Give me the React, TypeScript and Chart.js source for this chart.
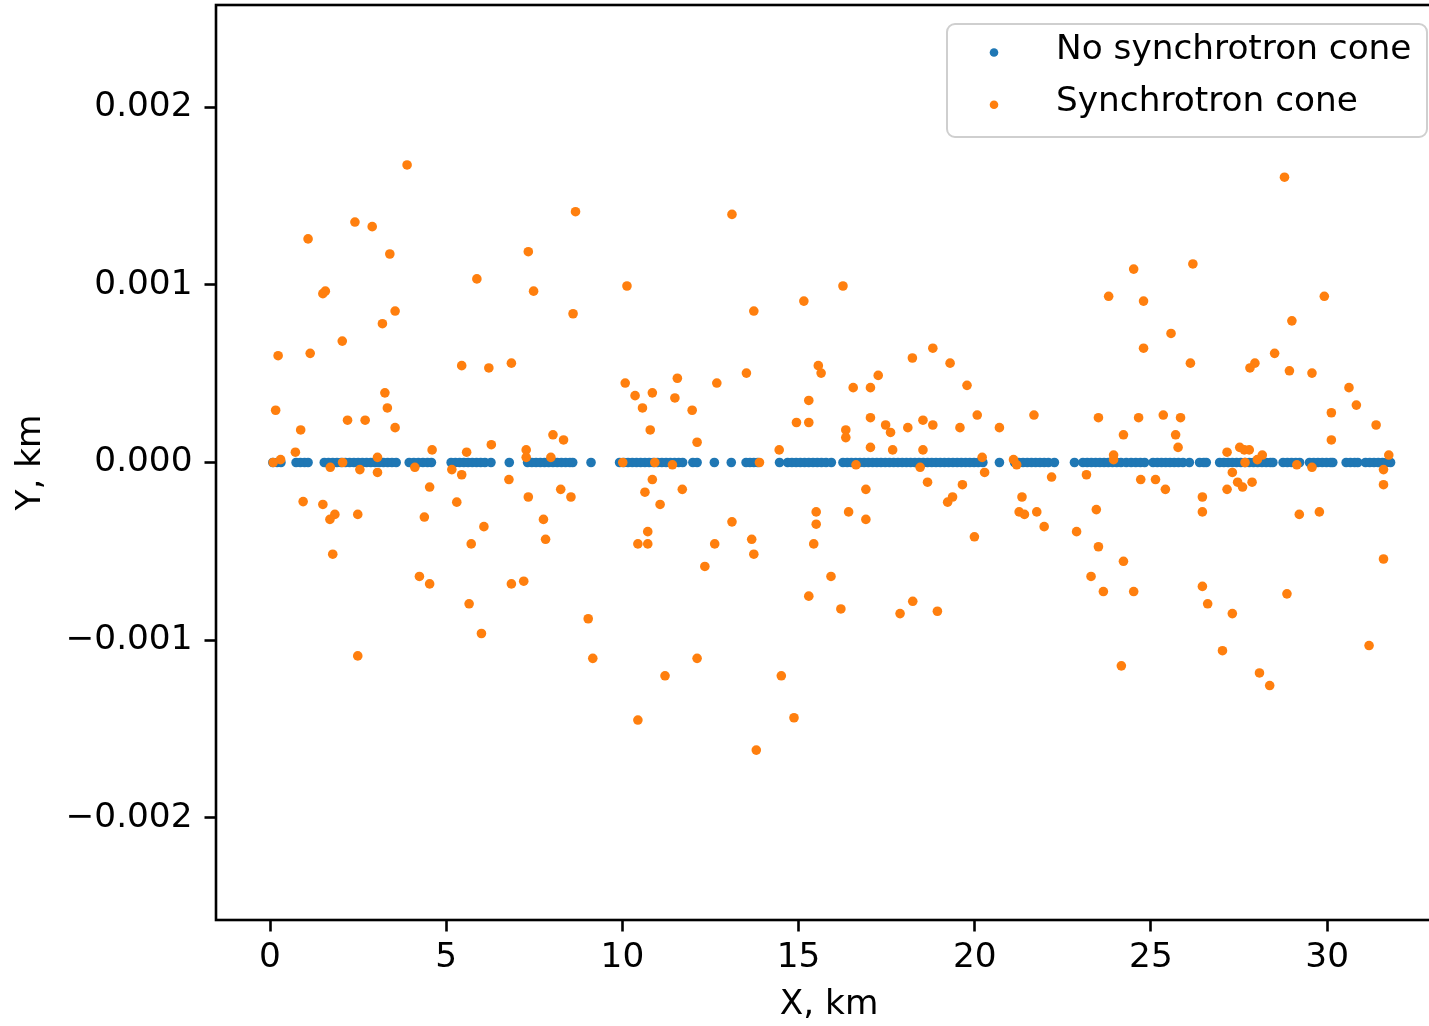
import React, { useEffect, useRef } from "react";
import { Chart, registerables } from "chart.js";

Chart.register(...registerables);

// ---------------- data ----------------
const seriesNames = ["No synchrotron cone", "Synchrotron cone"];
const seriesColors = ["#1f77b4", "#ff7f0e"];

// X positions (km) of particles without synchrotron cone (Y = 0)
const blueX = [
  0.08, 0.2, 0.31,
  0.74, 0.86, 0.98, 1.08,
  1.54, 1.66, 1.78, 1.9, 2.02, 2.14, 2.26, 2.38, 2.5, 2.62, 2.74, 2.86, 2.98, 3.1, 3.22, 3.34, 3.46, 3.58,
  3.95, 4.08, 4.21, 4.34, 4.47, 4.58,
  5.14, 5.26, 5.38, 5.5, 5.62, 5.74, 5.86, 5.98, 6.1, 6.27,
  6.79,
  7.31, 7.43, 7.55, 7.67, 7.79, 7.91, 8.03, 8.15, 8.27, 8.39, 8.51, 8.59,
  9.11,
  9.92, 10.04, 10.16, 10.28, 10.4, 10.52, 10.64, 10.76, 10.88, 11.0, 11.12, 11.24, 11.36, 11.48, 11.6, 11.71,
  12.0, 12.12,
  12.61,
  13.09,
  13.51, 13.62, 13.73, 13.84,
  14.46,
  14.69, 14.81, 14.93, 15.05, 15.17, 15.29, 15.41, 15.53, 15.65, 15.78,
  15.93,
  16.26, 16.38, 16.5, 16.62, 16.74, 16.86, 16.98, 17.1, 17.22, 17.34, 17.46, 17.58, 17.7, 17.82, 17.94, 18.06, 18.18,
  18.3, 18.42, 18.54, 18.66, 18.78, 18.9, 19.02, 19.14, 19.26, 19.38, 19.5, 19.62, 19.74, 19.86, 19.98, 20.1, 20.23,
  20.7,
  21.13, 21.25, 21.37, 21.49, 21.61, 21.73, 21.85, 21.97, 22.09, 22.26,
  22.83,
  23.07, 23.19, 23.31, 23.43, 23.55, 23.67, 23.79, 23.91, 24.03, 24.15, 24.3,
  24.44, 24.57, 24.7, 24.82,
  25.06, 25.18, 25.3, 25.42, 25.54, 25.66, 25.78, 25.91,
  26.09,
  26.38, 26.5, 26.57,
  26.95, 27.07, 27.19, 27.31, 27.43, 27.55, 27.67, 27.79, 27.91, 28.03, 28.15, 28.27, 28.39, 28.46,
  28.75, 28.87, 28.99, 29.11, 29.22,
  29.5, 29.62, 29.74, 29.86, 29.98, 30.1, 30.16,
  30.54, 30.66, 30.78, 30.87,
  31.09, 31.21, 31.33, 31.45, 31.57, 31.69, 31.8,
];

// particles with synchrotron cone: X (km)
const orangeX = [
  3.89, 2.41, 2.9, 1.08, 3.4, 1.5, 1.57, 3.55, 3.19, 2.05, 0.23, 1.14, 3.26, 3.33, 0.16, 2.2, 2.7, 3.55, 0.87, 0.72,
  0.3, 0.09, 3.05, 2.06, 1.71, 2.55, 3.05, 4.11, 0.94, 1.5, 1.84, 1.7, 2.49, 1.78, 2.49, 4.24,
  8.67, 7.33, 5.87, 7.48, 8.6, 10.13, 5.44, 6.21, 6.85, 10.08, 10.36, 8.03, 8.33, 4.6, 5.58, 6.28, 7.27, 7.27, 7.97,
  10.01, 5.16, 5.44, 4.53, 6.78, 7.33, 8.25, 8.54, 5.3, 4.38, 6.07, 5.71, 7.76, 7.82, 4.53, 6.85, 7.2, 5.65, 6.0,
  9.03, 9.16,
  13.11, 13.73, 15.15, 10.57, 10.85, 11.56, 11.49, 11.98, 12.68, 13.52, 10.79, 12.12, 14.45, 15.56, 15.64, 15.29,
  14.94, 15.29, 10.92, 11.42, 13.89, 10.85, 10.64, 11.07, 11.7, 10.72, 10.44, 10.72, 12.62, 13.11, 13.67, 13.73,
  12.34, 15.5, 15.5, 15.43, 15.29, 12.12, 11.21, 10.44, 14.51, 14.87, 13.8,
  16.26, 18.23, 18.81, 19.3, 19.78, 17.26, 16.55, 17.04, 17.04, 16.34, 16.34, 17.47, 17.61, 18.1, 18.53, 18.81,
  19.58, 20.07, 20.7, 17.04, 17.67, 18.53, 20.21, 21.1, 16.63, 18.45, 21.19, 20.28, 18.66, 16.91, 19.65, 19.37,
  19.23, 21.34, 21.26, 21.41, 16.42, 16.91, 19.99, 15.92, 16.2, 17.88, 18.24, 18.94,
  24.51, 26.19, 23.8, 24.79, 25.57, 24.79, 26.12, 21.68, 23.51, 24.65, 25.35, 25.84, 24.22, 25.7, 25.77, 23.94,
  23.94, 27.16, 22.18, 23.17, 24.71, 25.13, 25.41, 27.16, 21.76, 21.97, 26.46, 26.46, 23.45, 22.89, 23.51, 24.22,
  23.3, 23.65, 24.51, 26.46, 26.61, 27.03, 24.16,
  28.79, 29.92, 29.0, 28.51, 27.81, 27.95, 28.93, 29.57, 30.62, 30.83, 30.12, 31.39, 30.12, 27.52, 27.65, 27.79,
  28.16, 28.02, 27.67, 31.75, 27.31, 29.14, 29.57, 31.6, 27.46, 27.6, 27.87, 31.6, 29.21, 29.78, 31.6, 28.86,
  27.31, 31.19, 28.08, 28.37,
];

// particles with synchrotron cone: Y (km)
const orangeY = [
  0.001674, 0.001353, 0.001327, 0.001258, 0.001173, 0.00095, 0.000964, 0.000852, 0.000781, 0.000683, 0.000601,
  0.000614, 0.000392, 0.000307, 0.000294, 0.000238, 0.000238, 0.000196, 0.000183, 0.000058,
  0.000016, 0.0, 0.000029, 0.0, -0.000027, -0.00004, -0.000056, -0.000027, -0.00022, -0.000236, -0.000292,
  -0.00032, -0.000292, -0.000516, -0.001088, -0.000641,
  0.001411, 0.001186, 0.001033, 0.000964, 0.000837, 0.000993, 0.000545, 0.000532, 0.000559, 0.000447, 0.000376,
  0.000156, 0.000127, 0.000071, 0.000058, 0.0001, 0.000071, 0.000029, 0.000029,
  0.0, -0.00004, -0.000069, -0.000138, -0.000096, -0.000194, -0.000151, -0.000194, -0.000223, -0.000307,
  -0.000361, -0.000458, -0.00032, -0.000432, -0.000683, -0.000683, -0.000668, -0.000795, -0.000962,
  -0.000879, -0.001102,
  0.001396, 0.000852, 0.000908, 0.000307, 0.000392, 0.000474, 0.000363, 0.000294, 0.000447, 0.000503, 0.000183,
  0.000114, 0.000071, 0.000545, 0.000503, 0.000349,
  0.000225, 0.000225, 0.0, -0.000013, 0.0, -0.000096, -0.000167, -0.000236, -0.000151, -0.000389, -0.000458,
  -0.000458, -0.000458, -0.000334, -0.000432, -0.000516,
  -0.000585, -0.000278, -0.000347, -0.000458, -0.000752, -0.001102, -0.0012, -0.001449, -0.0012, -0.001436,
  -0.001618,
  0.000993, 0.000588, 0.000643, 0.000559, 0.000434, 0.00049, 0.000421, 0.000421, 0.000252, 0.000183, 0.00014,
  0.000211, 0.000169, 0.000196, 0.000238, 0.000211,
  0.000196, 0.000267, 0.000196, 0.000085, 0.000071, 0.000071, 0.000029, 0.000016, -0.000013, -0.000027,
  -0.000013, -0.000056, -0.000111, -0.000151, -0.000125, -0.000194,
  -0.000223, -0.000194, -0.000278, -0.000292, -0.000278, -0.00032, -0.000418, -0.000641, -0.000824, -0.00085,
  -0.000781, -0.000837,
  0.001088, 0.001117, 0.000935, 0.000908, 0.000726, 0.000643, 0.000559, 0.000267, 0.000252, 0.000252, 0.000267,
  0.000252, 0.000156, 0.000156, 0.000085, 0.000042,
  0.000016, 0.000058, -0.000082, -0.000069, -0.000096, -0.000096, -0.000151, -0.000151, -0.000278, -0.000361,
  -0.000194, -0.000278, -0.000265, -0.000389, -0.000474, -0.000556,
  -0.000641, -0.000726, -0.000726, -0.000697, -0.000795, -0.001059, -0.001144,
  0.001605, 0.000935, 0.000797, 0.000614, 0.000532, 0.000559, 0.000516, 0.000503, 0.000421, 0.000323, 0.00028,
  0.000211, 0.000127, 0.000085, 0.000071, 0.000071,
  0.000042, 0.000016, 0.0, 0.000042, -0.000056, -0.000013, -0.000027, -0.00004, -0.000111, -0.000138, -0.000111,
  -0.000125, -0.000292, -0.000278, -0.000543, -0.000739,
  -0.00085, -0.00103, -0.001184, -0.001255,
];

const xTickValues = [0, 5, 10, 15, 20, 25, 30];
const xTickLabels = ["0", "5", "10", "15", "20", "25", "30"];
const yTickValues = [-0.002, -0.001, 0, 0.001, 0.002];
const yTickLabels = ["\u22120.002", "\u22120.001", "0.000", "0.001", "0.002"];
const xAxisTitle = "X, km";
const yAxisTitle = "Y, km";
const xLimits = [-1.533, 33.26];
const yLimits = [-0.002574, 0.002574];

// ---------------- styling ----------------
const FONT_FAMILY = "'DejaVu Sans', 'Liberation Sans', sans-serif";
const FONT_SIZE = 34.3;
const CANVAS_W = 1450;
const CANVAS_H = 1026;
const PLOT_LEFT = 216;
const PLOT_TOP = 5;
const PLOT_RIGHT = 1442;
const PLOT_BOTTOM = 920;
const DOT_R = 4.8;

const framePlugin = {
  id: "mplFrame",
  afterDatasetsDraw(chart: any) {
    const { ctx, chartArea: ca } = chart;
    ctx.save();
    ctx.strokeStyle = "#000";
    ctx.lineWidth = 2.6;
    ctx.strokeRect(ca.left, ca.top, ca.right - ca.left, ca.bottom - ca.top);
    ctx.restore();
  },
};

const legendPlugin = {
  id: "mplLegend",
  afterDraw(chart: any) {
    const { ctx, chartArea: ca } = chart;
    const w = 480;
    const h = 113;
    const x = ca.right - 15 - w;
    const y = ca.top + 19;
    ctx.save();
    ctx.beginPath();
    if ((ctx as any).roundRect) (ctx as any).roundRect(x, y, w, h, 8);
    else ctx.rect(x, y, w, h);
    ctx.fillStyle = "rgba(255,255,255,0.8)";
    ctx.fill();
    ctx.lineWidth = 2;
    ctx.strokeStyle = "#cfcfcf";
    ctx.stroke();
    ctx.font = `${FONT_SIZE}px ${FONT_FAMILY}`;
    ctx.textBaseline = "middle";
    ctx.textAlign = "left";
    chart.data.datasets.forEach((ds: any, i: number) => {
      const cy = y + 28.5 + i * 52.3;
      ctx.beginPath();
      ctx.arc(x + 47, cy, 4.3, 0, Math.PI * 2);
      ctx.fillStyle = ds.backgroundColor;
      ctx.fill();
      ctx.fillStyle = "#000";
      ctx.fillText(ds.label, x + 109, cy - 2.4);
    });
    ctx.restore();
  },
};

export default function App() {
  const canvasRef = useRef<HTMLCanvasElement | null>(null);

  useEffect(() => {
    const canvas = canvasRef.current;
    if (!canvas) return;
    const font = { family: FONT_FAMILY, size: FONT_SIZE };
    const chart = new Chart(canvas, {
      type: "scatter",
      data: {
        datasets: [
          {
            label: seriesNames[0],
            data: blueX.map((x) => ({ x, y: 0 })),
            backgroundColor: seriesColors[0],
            borderColor: seriesColors[0],
            pointRadius: DOT_R,
            pointHoverRadius: DOT_R,
            pointBorderWidth: 0,
            order: 2,
          },
          {
            label: seriesNames[1],
            data: orangeX.map((x, i) => ({ x, y: orangeY[i] })),
            backgroundColor: seriesColors[1],
            borderColor: seriesColors[1],
            pointRadius: DOT_R,
            pointHoverRadius: DOT_R,
            pointBorderWidth: 0,
            order: 1,
          },
        ],
      },
      options: {
        animation: false,
        responsive: false,
        devicePixelRatio: 1,
        events: [],
        layout: { padding: { left: 0, top: PLOT_TOP, right: CANVAS_W - PLOT_RIGHT, bottom: 0 } },
        plugins: { legend: { display: false }, tooltip: { enabled: false } },
        scales: {
          x: {
            type: "linear",
            min: xLimits[0],
            max: xLimits[1],
            afterFit: (s: any) => {
              s.height = CANVAS_H - PLOT_BOTTOM;
              s.paddingLeft = 0;
              s.paddingRight = 0;
              s.paddingTop = 0;
              s.paddingBottom = 0;
            },
            afterBuildTicks: (s: any) => {
              s.ticks = xTickValues.map((v) => ({ value: v }));
            },
            ticks: {
              font,
              color: "#000",
              padding: 6.5,
              maxRotation: 0,
              autoSkip: false,
              callback: (_v: any, i: number) => xTickLabels[i],
            },
            grid: {
              drawOnChartArea: false,
              drawTicks: true,
              tickLength: 11.5,
              tickWidth: 2.6,
              tickColor: "#000",
            },
            border: { display: false },
            title: { display: true, text: xAxisTitle, font, color: "#000", padding: { top: 0, bottom: 0 } },
          },
          y: {
            type: "linear",
            min: yLimits[0],
            max: yLimits[1],
            afterFit: (s: any) => {
              s.width = PLOT_LEFT;
              s.paddingTop = 0;
              s.paddingBottom = 0;
              s.paddingLeft = 0;
              s.paddingRight = 0;
            },
            afterBuildTicks: (s: any) => {
              s.ticks = yTickValues.map((v) => ({ value: v }));
            },
            ticks: {
              font,
              color: "#000",
              padding: 12,
              autoSkip: false,
              callback: (_v: any, i: number) => yTickLabels[i],
            },
            grid: {
              drawOnChartArea: false,
              drawTicks: true,
              tickLength: 11.5,
              tickWidth: 2.6,
              tickColor: "#000",
            },
            border: { display: false },
            title: { display: true, text: yAxisTitle, font, color: "#000", padding: { top: 11, bottom: 0 } },
          },
        },
      } as any,
      plugins: [framePlugin, legendPlugin],
    });
    return () => chart.destroy();
  }, []);

  return (
    <div
      style={{
        position: "fixed",
        left: 0,
        top: 0,
        width: "1429px",
        height: "1026px",
        overflow: "hidden",
        background: "#fff",
      }}
    >
      <canvas ref={canvasRef} width={CANVAS_W} height={CANVAS_H} style={{ display: "block" }} />
    </div>
  );
}
